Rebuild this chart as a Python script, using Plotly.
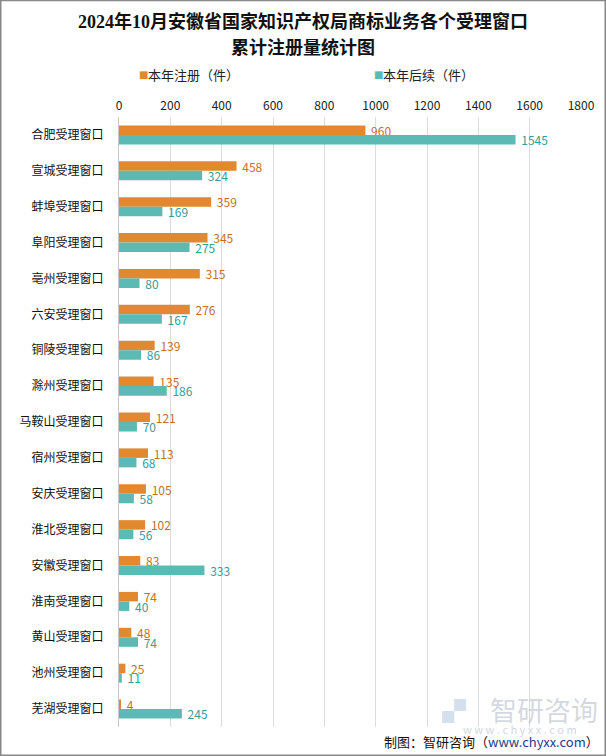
import plotly.graph_objects as go

categories = ["合肥受理窗口", "宣城受理窗口", "蚌埠受理窗口", "阜阳受理窗口", "亳州受理窗口",
              "六安受理窗口", "铜陵受理窗口", "滁州受理窗口", "马鞍山受理窗口", "宿州受理窗口",
              "安庆受理窗口", "淮北受理窗口", "安徽受理窗口", "淮南受理窗口", "黄山受理窗口",
              "池州受理窗口", "芜湖受理窗口"]
registrations = [960, 458, 359, 345, 315, 276, 139, 135, 121, 113, 105, 102, 83, 74, 48, 25, 4]
follow_up = [1545, 324, 169, 275, 80, 167, 86, 186, 70, 68, 58, 56, 333, 40, 74, 11, 245]
series_names = ["本年注册（件）", "本年后续（件）"]
series_colors = ["#E2892F", "#5BBBB4"]
label_colors = ["#C0712A", "#3C9A98"]
x_ticks = [0, 200, 400, 600, 800, 1000, 1200, 1400, 1600, 1800]
title_lines = ["2024年10月安徽省国家知识产权局商标业务各个受理窗口", "累计注册量统计图"]

W, H = 606, 756
ML, MR, MT, MB = 119, 25, 117, 29
pw = W - ML - MR
ph = H - MT - MB

SANS = "Noto Sans CJK SC, Noto Sans, sans-serif"
SERIF = "Liberation Serif, Noto Sans CJK SC, serif"


def px_x(x):
    return (x - ML) / pw


def px_y(y):
    return 1 - (y - MT) / ph


fig = go.Figure()
for vals, name, col, lcol in zip([registrations, follow_up], series_names, series_colors, label_colors):
    fig.add_trace(go.Bar(
        y=categories, x=vals, orientation="h", name=name,
        marker=dict(color=col, line=dict(width=0)),
        text=[" " + str(v) for v in vals], textposition="outside", constraintext="none",
        textfont=dict(color=lcol, size=12, family=SANS), cliponaxis=False,
        showlegend=False,
    ))

fig.update_layout(
    width=W, height=H,
    margin=dict(l=ML, r=MR, t=MT, b=MB),
    paper_bgcolor="white", plot_bgcolor="white",
    barmode="group", bargap=0.47, bargroupgap=0,
    xaxis=dict(
        side="top", range=[0, 1800], tickvals=x_ticks, ticktext=[str(t) for t in x_ticks],
        showgrid=True, gridcolor="#DCDCDC", gridwidth=1, zeroline=False,
        tickfont=dict(family=SANS, size=12, color="#222222"), ticks="", showline=False,
        ticklabelstandoff=4,
    ),
    yaxis=dict(
        autorange="reversed", tickfont=dict(family=SANS, size=12, color="#111111"),
        ticks="", showline=True, linecolor="#C8C8C8", linewidth=1,
        ticklabelstandoff=12, showgrid=False,
    ),
)

# title
for line, yy in zip(title_lines, [22, 47]):
    fig.add_annotation(xref="paper", yref="paper", x=px_x(303), y=px_y(yy),
                       xanchor="center", yanchor="middle", showarrow=False,
                       text="<b>" + line + "</b>",
                       font=dict(family=SERIF, size=18, color="#111111"))

# legend (drawn as text)
for name, col, xs in zip(series_names, series_colors, [137, 372]):
    fig.add_annotation(xref="paper", yref="paper", x=px_x(xs), y=px_y(75),
                       xanchor="left", yanchor="middle", showarrow=False,
                       text="■", font=dict(family="DejaVu Sans", size=10, color=col))
    fig.add_annotation(xref="paper", yref="paper", x=px_x(xs + 9), y=px_y(74),
                       xanchor="left", yanchor="middle", showarrow=False,
                       text=name, font=dict(family=SANS, size=13, color="#222222"))

# outer frame
fig.add_shape(type="rect", xref="paper", yref="paper",
              x0=px_x(0.75), x1=px_x(W - 0.75),
              y0=px_y(H - 0.75), y1=px_y(0.5),
              line=dict(color="#888888", width=1.5), layer="above")

# watermark
fig.add_annotation(xref="paper", yref="paper", x=px_x(600), y=px_y(709),
                   xanchor="right", yanchor="middle", showarrow=False,
                   text="智研咨询", font=dict(family=SANS, size=27, color="rgba(175,185,200,0.55)"))
fig.add_annotation(xref="paper", yref="paper", x=px_x(454), y=px_y(709),
                   xanchor="center", yanchor="middle", showarrow=False,
                   text="▞", font=dict(family=SANS, size=24, color="rgba(160,185,220,0.45)"))
fig.add_annotation(xref="paper", yref="paper", x=px_x(520), y=px_y(729),
                   xanchor="center", yanchor="middle", showarrow=False,
                   text="w w w . c h y x x . c o m", font=dict(family=SANS, size=11, color="rgba(175,185,200,0.6)"))

# footer
fig.add_annotation(xref="paper", yref="paper", x=px_x(601), y=px_y(741),
                   xanchor="right", yanchor="middle", showarrow=False,
                   text="制图：智研咨询（<span style='color:#1A3C8C'>www.chyxx.com</span>）",
                   font=dict(family=SANS, size=13, color="#111111"))

fig.write_html("out.html")
